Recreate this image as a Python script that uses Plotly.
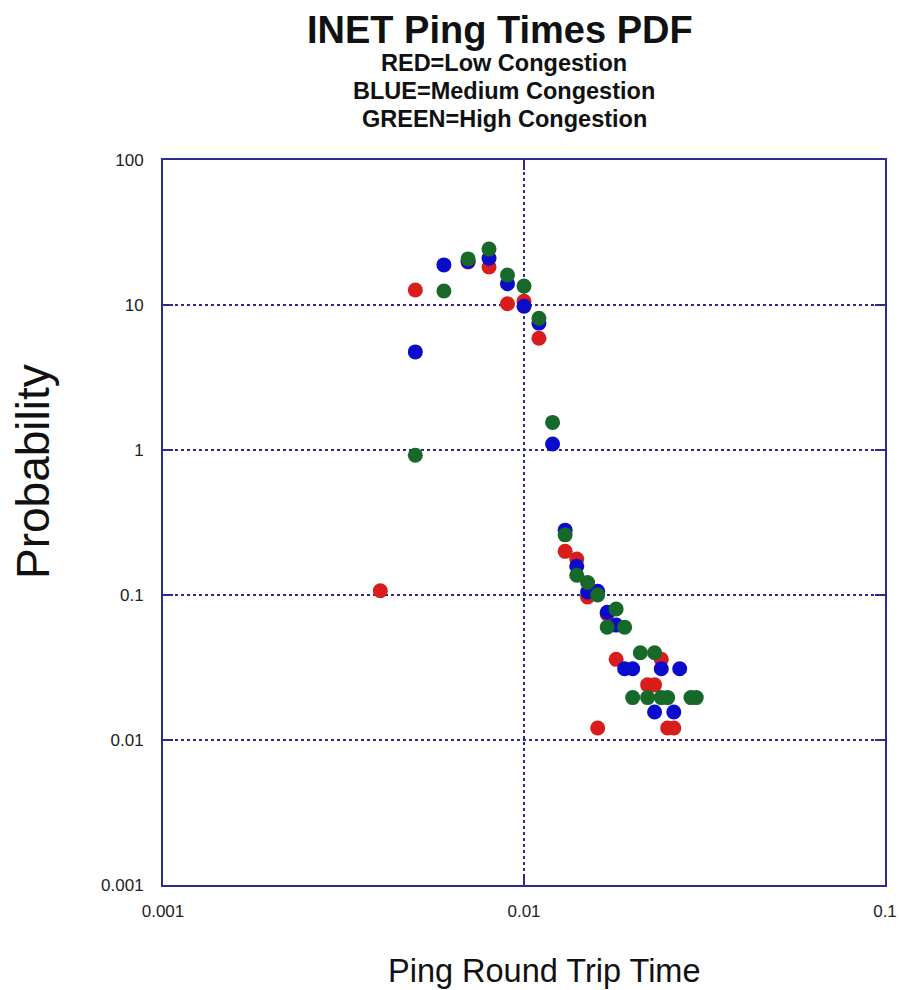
import plotly.graph_objects as go

# Low congestion (red)
red_x = [0.004, 0.005, 0.007, 0.008, 0.009, 0.010, 0.011, 0.013, 0.014, 0.015,
         0.016, 0.017, 0.018, 0.022, 0.023, 0.024, 0.025, 0.026]
red_y = [0.107, 12.7, 19.8, 18.3, 10.2, 10.6, 5.9, 0.20, 0.177, 0.097,
         0.0121, 0.074, 0.036, 0.024, 0.024, 0.036, 0.0121, 0.0121]

# Medium congestion (blue)
blue_x = [0.005, 0.006, 0.007, 0.008, 0.009, 0.010, 0.011, 0.012, 0.013, 0.014,
          0.015, 0.016, 0.017, 0.018, 0.019, 0.020, 0.023, 0.024, 0.026, 0.027]
blue_y = [4.75, 18.9, 20.0, 21.0, 14.0, 9.8, 7.5, 1.1, 0.28, 0.158,
          0.105, 0.106, 0.076, 0.062, 0.031, 0.031, 0.0156, 0.031, 0.0156, 0.031]

# High congestion (green)
green_x = [0.005, 0.006, 0.007, 0.008, 0.009, 0.010, 0.011, 0.012, 0.013, 0.014,
           0.015, 0.016, 0.017, 0.018, 0.019, 0.020, 0.021, 0.022, 0.023, 0.024,
           0.025, 0.029, 0.030]
green_y = [0.92, 12.5, 20.8, 24.3, 16.1, 13.5, 8.1, 1.55, 0.26, 0.137,
           0.122, 0.100, 0.060, 0.080, 0.060, 0.0196, 0.040, 0.0196, 0.040, 0.0196,
           0.0196, 0.0196, 0.0196]

x_tickvals = [0.001, 0.01, 0.1]
x_ticktext = ["0.001", "0.01", "0.1"]
y_tickvals = [0.001, 0.01, 0.1, 1, 10, 100]
y_ticktext = ["0.001", "0.01", "0.1", "1", "10", "100"]

NAVY = "#2b2b93"
FONT = "Liberation Sans, Arial"
series = [
    ("Low Congestion", red_x, red_y, "#d91c1c"),
    ("Medium Congestion", blue_x, blue_y, "#0b0bcc"),
    ("High Congestion", green_x, green_y, "#17692a"),
]

fig = go.Figure()
for name, xs, ys, col in series:
    fig.add_trace(go.Scatter(x=xs, y=ys, mode="markers", name=name,
                             marker=dict(color=col, size=15, line=dict(width=0))))

axis_common = dict(
    type="log", showline=True, linecolor=NAVY, linewidth=2, mirror="ticks",
    ticks="inside", ticklen=10, tickcolor=NAVY, tickwidth=2,
    showgrid=True, gridcolor=NAVY, gridwidth=1.5, griddash="dot",
    zeroline=False, automargin=False,
    tickfont=dict(family=FONT, size=17, color="#222222"),
)
fig.update_xaxes(range=[-3, -1], tickvals=x_tickvals, ticktext=x_ticktext,
                 ticklabelstandoff=10, **axis_common)
fig.update_yaxes(range=[-3, 2], tickvals=y_tickvals, ticktext=y_ticktext,
                 ticklabelstandoff=14, **axis_common)

annotations = [
    dict(text="<b>INET Ping Times PDF</b>", x=500, y=30, size=38),
    dict(text="<b>RED=Low Congestion</b>", x=504, y=63, size=23.5),
    dict(text="<b>BLUE=Medium Congestion</b>", x=504, y=91, size=23.5),
    dict(text="<b>GREEN=High Congestion</b>", x=504, y=119, size=23.5),
    dict(text="Ping Round Trip Time", x=544, y=971, size=32.5),
]
L, R, T, B = 163, 885, 160, 885
for a in annotations:
    fig.add_annotation(text=a["text"], xref="paper", yref="paper",
                       x=(a["x"] - L) / (R - L), y=(B - a["y"]) / (B - T),
                       xanchor="center", yanchor="middle", showarrow=False,
                       font=dict(family=FONT, size=a["size"], color="#111111"))
fig.add_annotation(text="Probability", xref="paper", yref="paper",
                   x=(33 - L) / (R - L), y=(B - 472) / (B - T), textangle=-90,
                   xanchor="center", yanchor="middle", showarrow=False,
                   font=dict(family=FONT, size=46, color="#111111"))

fig.update_layout(
    width=900, height=990, showlegend=False,
    paper_bgcolor="white", plot_bgcolor="white",
    margin=dict(l=L, r=900 - R, t=T, b=990 - B, autoexpand=False),
)
fig.write_html("out.html", config={"displayModeBar": False},
               post_script="document.body.style.margin='0';document.body.style.overflow='hidden';")
